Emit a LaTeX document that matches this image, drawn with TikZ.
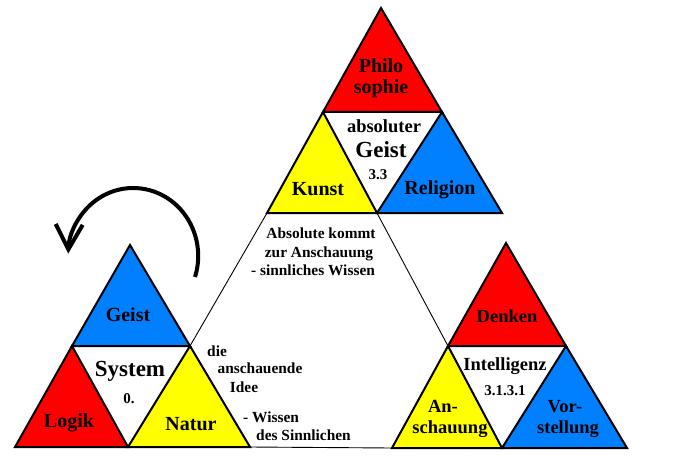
\documentclass[tikz,border=0pt]{standalone}
\usepackage{fontspec}
\setmainfont{Liberation Serif}
\usetikzlibrary{arrows.meta}
\definecolor{tred}{RGB}{255,0,0}
\definecolor{tyellow}{RGB}{255,255,0}
\definecolor{tblue}{RGB}{0,128,255}
\begin{document}
\begin{tikzpicture}[x=1pt,y=-1pt,
  tri/.style={draw=black,line width=2pt,line join=miter},
  thinline/.style={draw=black,line width=0.9pt},
  lbl/.style={anchor=base,inner sep=0pt,font=\bfseries\fontsize{20}{22}\selectfont},
  lblbig/.style={anchor=base,inner sep=0pt,font=\bfseries\fontsize{23}{25}\selectfont},
  lblmid/.style={anchor=base,inner sep=0pt,font=\bfseries\fontsize{18.5}{20}\selectfont},
  lblsm/.style={anchor=base,inner sep=0pt,font=\bfseries\fontsize{15.4}{17}\selectfont},
  lblnum/.style={anchor=base,inner sep=0pt,font=\bfseries\fontsize{15}{17}\selectfont},
  cyclearrow/.style={draw=black,line width=4pt,-{Straight Barb[length=25pt,width=27pt,line width=4pt]}}
]
\useasboundingbox (0,0) rectangle (676,462);

% ---------- top group: absoluter Geist ----------
\filldraw[tri,fill=tred]    (381,8)   coordinate (phA) -- (442,112) coordinate (phR) -- (323,112) coordinate (phL) -- cycle;
\filldraw[tri,fill=tyellow] (323,112) -- (377,213) coordinate (kuR) -- (267,213) coordinate (kuL) -- cycle;
\filldraw[tri,fill=tblue]   (442,112) -- (502,213) coordinate (reR) -- (377,213) coordinate (reL) -- cycle;

% ---------- left group: System ----------
\filldraw[tri,fill=tblue]   (130,245) coordinate (geA) -- (190,346) coordinate (geR) -- (72,346) coordinate (geL) -- cycle;
\filldraw[tri,fill=tred]    (72,346)  -- (128,447) coordinate (loR) -- (15,447) coordinate (loL) -- cycle;
\filldraw[tri,fill=tyellow] (190,346) -- (250,447) coordinate (naR) -- (128,447) coordinate (naL) -- cycle;

% ---------- right group: Intelligenz ----------
\filldraw[tri,fill=tred]    (506,243) coordinate (deA) -- (566,346) coordinate (deR) -- (448,346) coordinate (deL) -- cycle;
\filldraw[tri,fill=tyellow] (448,346) -- (502,448) coordinate (anR) -- (392,448) coordinate (anL) -- cycle;
\filldraw[tri,fill=tblue]   (566,346) -- (627,448) coordinate (voR) -- (502,448) coordinate (voL) -- cycle;

% ---------- thin connecting lines ----------
\draw[thinline] (geR) -- (kuL);
\draw[thinline] (reL) -- (deL);
\draw[thinline] (naR) -- (anL);

% ---------- circular arrow ----------
\coordinate (arcS) at (195,277);
\draw[cyclearrow] (arcS) arc[start angle=18, end angle=-178, x radius=65, y radius=68];

% ---------- labels: top ----------
\node[lbl] (philo) at (381,73) {Philo};
\node[lbl] (sophie) at (381,94) {sophie};
\node[lblmid] (absoluter) at (384,133) {absoluter};
\node[lblbig] (ageist) at (381,158) {Geist};
\node[lblnum] (n33) at (378,180) {3.3};
\node[lbl] (kunst) at (318,196) {Kunst};
\node[lbl] (religion) at (440,195) {Religion};

% ---------- labels: left ----------
\node[lbl] (geist) at (128,321) {Geist};
\node[lblbig] (system) at (130,376) {System};
\node[lblnum] (n0) at (129,403) {0.};
\node[lbl] (logik) at (69,427) {Logik};
\node[lbl] (natur) at (191,430) {Natur};

% ---------- labels: side texts ----------
\node[lblsm,anchor=base west] (die) at (207,356) {die};
\node[lblsm] (anschauende) at (260,373) {anschauende};
\node[lblsm] (idee) at (244,392) {Idee};
\node[lblsm,anchor=base west] (wissen) at (243,422) {- Wissen};
\node[lblsm,anchor=base west] (dessinn) at (256,440) {des Sinnlichen};

\node[lblsm] (absolute) at (321,238) {Absolute kommt};
\node[lblsm] (zuran) at (319,257) {zur Anschauung};
\node[lblsm] (sinnl) at (313,275) {- sinnliches Wissen};

% ---------- labels: right ----------
\node[lblmid] (denken) at (507,322) {Denken};
\node[lblmid] (intell) at (505,370) {Intelligenz};
\node[lblnum] (n3131) at (505,395) {3.1.3.1};
\node[lblmid] (an) at (443,412) {An-};
\node[lblmid] (schauung) at (450,433) {schauung};
\node[lblmid] (vor) at (565,412) {Vor-};
\node[lblmid] (stellung) at (568,433) {stellung};
\end{tikzpicture}
\end{document}
